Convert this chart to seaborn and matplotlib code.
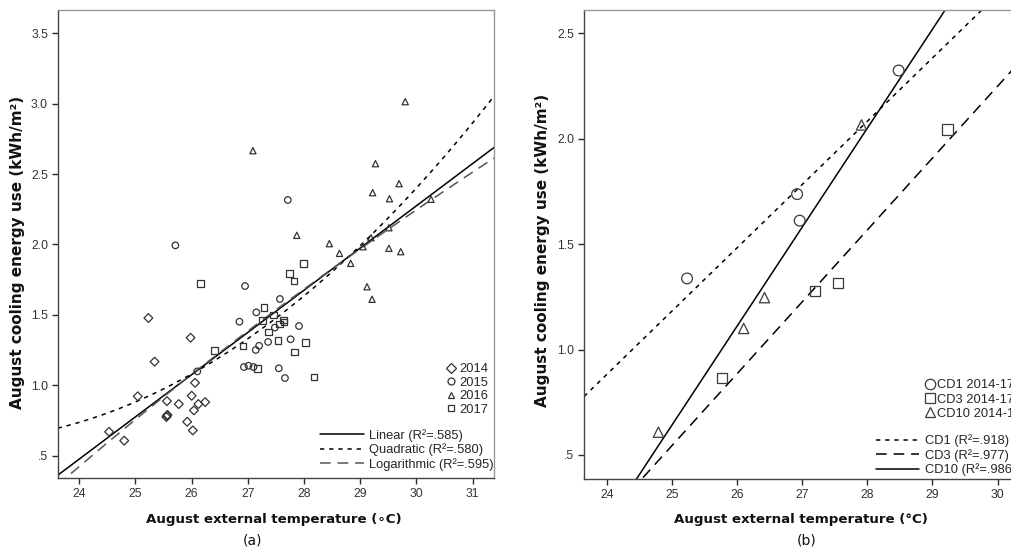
import numpy as np
import pandas as pd
import matplotlib
matplotlib.use("Agg")
import matplotlib.pyplot as plt
import seaborn as sns
from matplotlib.lines import Line2D

# ---------------- Panel (a): August data by year ----------------
temp_2014 = [25.23, 25.98, 25.34, 26.06, 25.04, 26.00, 25.56, 25.77, 26.12,
             26.24, 26.04, 25.56, 25.57, 25.55, 25.92, 26.02, 24.53, 24.80]
use_2014 = [1.478, 1.338, 1.168, 1.018, 0.922, 0.926, 0.888, 0.867, 0.867,
            0.881, 0.822, 0.784, 0.790, 0.775, 0.741, 0.680, 0.670, 0.607]

temp_2015 = [25.71, 27.71, 26.95, 27.57, 27.15, 26.85, 27.91, 27.48, 27.20,
             27.14, 27.36, 27.76, 26.10, 26.93, 27.01, 27.10, 27.55, 27.66]
use_2015 = [1.994, 2.316, 1.705, 1.613, 1.518, 1.452, 1.421, 1.410, 1.281,
            1.251, 1.308, 1.327, 1.099, 1.130, 1.139, 1.130, 1.121, 1.052]

temp_2016 = [29.80, 27.09, 29.27, 29.69, 29.22, 29.52, 30.26, 27.87, 28.45,
             28.63, 29.51, 29.19, 29.05, 29.51, 29.72, 28.83, 29.12, 29.21]
use_2016 = [3.014, 2.666, 2.574, 2.432, 2.368, 2.325, 2.321, 2.065, 2.006,
            1.937, 2.119, 2.048, 1.984, 1.973, 1.949, 1.866, 1.700, 1.611]

temp_2017 = [26.16, 27.74, 27.82, 27.99, 27.29, 27.46, 27.26, 27.63, 27.56,
             27.37, 26.41, 26.91, 27.54, 28.03, 27.83, 27.17, 28.18, 27.64]
use_2017 = [1.722, 1.795, 1.741, 1.866, 1.551, 1.499, 1.459, 1.464, 1.435,
            1.379, 1.246, 1.279, 1.320, 1.305, 1.237, 1.118, 1.059, 1.450]

years = ["2014", "2015", "2016", "2017"]
fit_labels_a = ["Linear (R\u00b2=.585)", "Quadratic (R\u00b2=.580)",
                "Logarithmic (R\u00b2=.595)"]

# ---------------- Panel (b): 2014-17 averages per building ----------------
temp_cd1 = [25.23, 26.92, 26.96, 28.48]
use_cd1 = [1.337, 1.737, 1.611, 2.323]
temp_cd3 = [25.77, 27.20, 27.55, 29.23]
use_cd3 = [0.865, 1.278, 1.315, 2.044]
temp_cd10 = [24.79, 26.10, 26.42, 27.91]
use_cd10 = [0.608, 1.100, 1.246, 2.065]

buildings = ["CD1", "CD3", "CD10"]
point_labels_b = ["CD1 2014-17", "CD3 2014-17", "CD10 2014-17"]
fit_labels_b = ["CD1 (R\u00b2=.918)", "CD3 (R\u00b2=.977)", "CD10 (R\u00b2=.986)"]

xticks_a = [24, 25, 26, 27, 28, 29, 30, 31]
yticks_a = [0.5, 1.0, 1.5, 2.0, 2.5, 3.0, 3.5]
yticklabels_a = [".5", "1.0", "1.5", "2.0", "2.5", "3.0", "3.5"]
xticks_b = [24, 25, 26, 27, 28, 29, 30]
yticks_b = [0.5, 1.0, 1.5, 2.0, 2.5]
yticklabels_b = [".5", "1.0", "1.5", "2.0", "2.5"]

df_a = pd.DataFrame({
    "temp": temp_2014 + temp_2015 + temp_2016 + temp_2017,
    "use": use_2014 + use_2015 + use_2016 + use_2017,
    "year": (["2014"] * len(temp_2014) + ["2015"] * len(temp_2015)
             + ["2016"] * len(temp_2016) + ["2017"] * len(temp_2017)),
})
df_b = pd.DataFrame({
    "temp": temp_cd1 + temp_cd3 + temp_cd10,
    "use": use_cd1 + use_cd3 + use_cd10,
    "bldg": ["CD1"] * len(temp_cd1) + ["CD3"] * len(temp_cd3) + ["CD10"] * len(temp_cd10),
})

sns.set_theme(style="white")
plt.rcParams["font.family"] = ["Liberation Sans", "DejaVu Sans"]

W, H = 1011, 552
fig = plt.figure(figsize=(W / 100, H / 100), dpi=100)


def fx(px):
    return px / W


def fy(py):
    return 1 - py / H


# axes rectangles in pixels: left, top, right, bottom
ax_a = fig.add_axes([fx(57.7), fy(478), fx(494.3 - 57.7), (478 - 10) / H])
ax_b = fig.add_axes([fx(584), fy(479), fx(1022 - 584), (479 - 10) / H])

INK = "#2b2b2b"
EDGE = "#333333"


def style_axes(ax, xticks, yticks, yticklabels):
    ax.set_xticks(xticks)
    ax.set_xticklabels([str(t) for t in xticks])
    ax.set_yticks(yticks)
    ax.set_yticklabels(yticklabels)
    ax.tick_params(axis="both", which="both", direction="out", length=4,
                   width=1, colors=INK, labelsize=8.8, pad=3,
                   bottom=True, left=True, top=False, right=False)
    for t in ax.get_xticklabels() + ax.get_yticklabels():
        t.set_color("#333333")
    for side in ["left", "bottom"]:
        ax.spines[side].set_color("#444444")
        ax.spines[side].set_linewidth(1.0)
    for side in ["top", "right"]:
        ax.spines[side].set_color("#9a9a9a")
        ax.spines[side].set_linewidth(1.0)
    ax.set_xlabel("")
    ax.set_ylabel("")
    ax.grid(False)


# ---------------- Panel (a) ----------------
XLIM_A = (23.616, 31.385)
YLIM_A = (0.342, 3.665)
ax_a.set_xlim(*XLIM_A)
ax_a.set_ylim(*YLIM_A)

markers_a = {"2014": "D", "2015": "o", "2016": "^", "2017": "s"}
sizes_a = {"2014": 20, "2015": 22, "2016": 20, "2017": 22}
for yr in years:
    sub = df_a[df_a["year"] == yr]
    sns.scatterplot(data=sub, x="temp", y="use", marker=markers_a[yr],
                    s=sizes_a[yr], facecolor="none", edgecolor=EDGE,
                    linewidth=0.9, ax=ax_a, zorder=3)

line_a = dict(color="black", linewidth=1.1)
sns.regplot(data=df_a, x="temp", y="use", scatter=False, ci=None,
            truncate=False, order=1, ax=ax_a,
            line_kws=dict(line_a, linestyle="-"))
ax_a.set_xlim(*XLIM_A)
sns.regplot(data=df_a, x="temp", y="use", scatter=False, ci=None,
            truncate=False, order=2, ax=ax_a,
            line_kws=dict(line_a, linestyle=(0, (2.8, 3.2))))
ax_a.set_xlim(*XLIM_A)
sns.regplot(data=df_a, x="temp", y="use", scatter=False, ci=None,
            truncate=False, logx=True, ax=ax_a,
            line_kws=dict(color="#555555", linewidth=1.1, linestyle=(0, (7, 4.5))))
ax_a.set_xlim(*XLIM_A)
ax_a.set_ylim(*YLIM_A)
style_axes(ax_a, xticks_a, yticks_a, yticklabels_a)

leg_font = 9.3
mk_handles_a = [Line2D([], [], linestyle="none", marker=markers_a[yr],
                       markersize=5 if yr != "2014" else 4.6,
                       markerfacecolor="none", markeredgecolor=EDGE,
                       markeredgewidth=0.9) for yr in years]
leg1 = ax_a.legend(mk_handles_a, years, loc="lower right",
                   bbox_to_anchor=(0.9856, 0.133), frameon=False,
                   fontsize=leg_font, handlelength=0.8, handletextpad=0.25,
                   labelspacing=0.11, borderpad=0, borderaxespad=0)
ax_a.add_artist(leg1)
ln_handles_a = [Line2D([], [], color="black", linewidth=1.1, linestyle="-"),
                Line2D([], [], color="black", linewidth=1.1, linestyle=(0, (2.8, 3.2))),
                Line2D([], [], color="#555555", linewidth=1.1, linestyle=(0, (7, 4.5)))]
ax_a.legend(ln_handles_a, fit_labels_a, loc="lower right",
            bbox_to_anchor=(0.999, 0.016), frameon=False, fontsize=leg_font,
            handlelength=3.4, handletextpad=0.4, labelspacing=0.12,
            borderpad=0, borderaxespad=0)

# ---------------- Panel (b) ----------------
XLIM_B = (23.647, 30.375)
YLIM_B = (0.386, 2.610)
ax_b.set_xlim(*XLIM_B)
ax_b.set_ylim(*YLIM_B)

markers_b = {"CD1": "o", "CD3": "s", "CD10": "^"}
sizes_b = {"CD1": 60, "CD3": 55, "CD10": 55}
styles_b = {"CD1": (0, (2.8, 3.2)), "CD3": (0, (7, 4.5)), "CD10": "-"}
for b in buildings:
    sub = df_b[df_b["bldg"] == b]
    sns.scatterplot(data=sub, x="temp", y="use", marker=markers_b[b],
                    s=sizes_b[b], facecolor="none", edgecolor="#3a3a3a",
                    linewidth=0.9, ax=ax_b, zorder=3)
for b in buildings:
    sub = df_b[df_b["bldg"] == b]
    sns.regplot(data=sub, x="temp", y="use", scatter=False, ci=None,
                truncate=False, order=1, ax=ax_b,
                line_kws=dict(color="black", linewidth=1.1, linestyle=styles_b[b]))
    ax_b.set_xlim(*XLIM_B)
ax_b.set_xlim(*XLIM_B)
ax_b.set_ylim(*YLIM_B)
style_axes(ax_b, xticks_b, yticks_b, yticklabels_b)

mk_handles_b = [Line2D([], [], linestyle="none", marker=markers_b[b],
                       markersize=7.5, markerfacecolor="none",
                       markeredgecolor="#3a3a3a", markeredgewidth=0.9)
                for b in buildings]
leg2 = ax_b.legend(mk_handles_b, point_labels_b, loc="lower left",
                   bbox_to_anchor=(0.778, 0.126), frameon=False,
                   fontsize=leg_font, handlelength=0.8, handletextpad=0.15,
                   labelspacing=0.17, borderpad=0, borderaxespad=0)
ax_b.add_artist(leg2)
ln_handles_b = [Line2D([], [], color="black", linewidth=1.1, linestyle=styles_b[b])
                for b in buildings]
ax_b.legend(ln_handles_b, fit_labels_b, loc="lower left",
            bbox_to_anchor=(0.6667, 0.006), frameon=False, fontsize=leg_font,
            handlelength=3.3, handletextpad=0.5, labelspacing=0.13,
            borderpad=0, borderaxespad=0)

# ---------------- Titles / axis labels ----------------
bold = dict(fontweight="bold", color="#111111", family=["DejaVu Sans"])
fig.text(fx(18), fy(252), "August cooling energy use (kWh/m\u00b2)",
         rotation=90, ha="center", va="center", fontsize=11.0, **bold)
fig.text(fx(543), fy(250), "August cooling energy use (kWh/m\u00b2)",
         rotation=90, ha="center", va="center", fontsize=11.0, **bold)
fig.text(fx(274), fy(520), "August external temperature (\u2218C)",
         ha="center", va="center", fontsize=9.6, **bold)
fig.text(fx(801), fy(520), "August external temperature (\u00b0C)",
         ha="center", va="center", fontsize=9.6, **bold)
fig.text(fx(252), fy(540), "(a)", ha="center", va="center", fontsize=10,
         color="#111111", family=["DejaVu Sans"])
fig.text(fx(807), fy(540), "(b)", ha="center", va="center", fontsize=10,
         color="#111111", family=["DejaVu Sans"])

fig.savefig("out.png", dpi=100)
